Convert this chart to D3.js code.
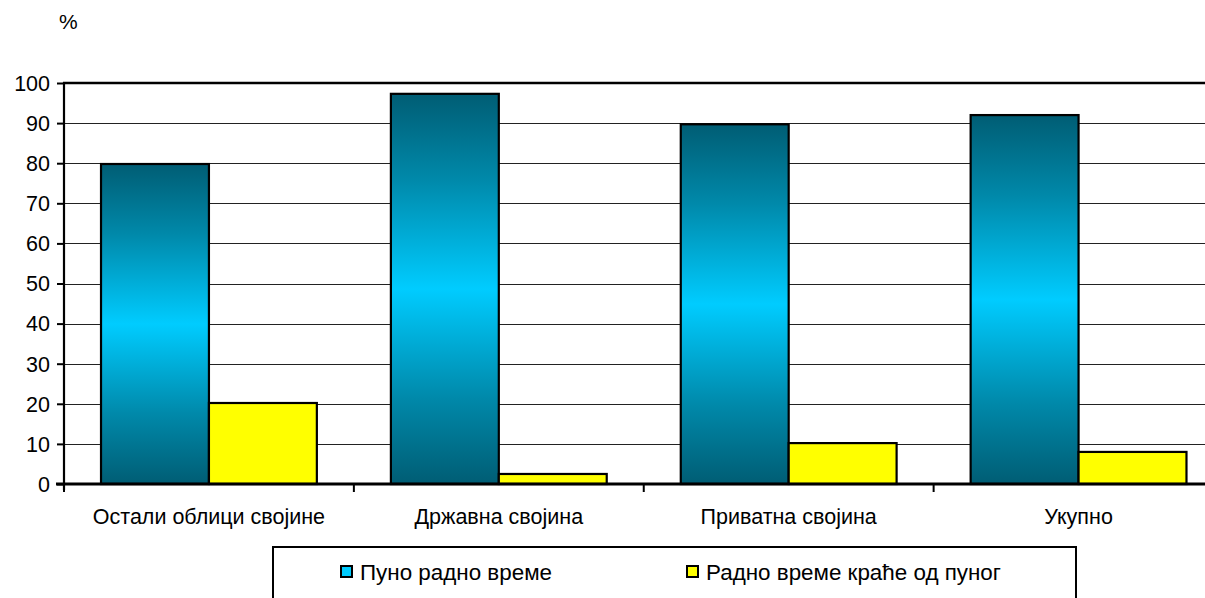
<!DOCTYPE html>
<html><head><meta charset="utf-8">
<script src="https://cdn.jsdelivr.net/npm/d3@7"></script>
<style>
html,body{margin:0;padding:0;background:#fff;overflow:hidden}
svg{display:block;font-family:"Liberation Sans",Arial,sans-serif}
</style></head>
<body>
<svg id="chart" width="1205" height="598"></svg>
<script>
const categories = ["Остали облици својине", "Државна својина", "Приватна својина", "Укупно"];
const seriesNames = ["Пуно радно време", "Радно време краће од пуног"];
const fullTime = [79.8, 97.3, 89.7, 92.0];
const partTime = [20.2, 2.5, 10.2, 8.0];
const yTicks = [0, 10, 20, 30, 40, 50, 60, 70, 80, 90, 100];
const unitLabel = "%";

(function () {
const data = categories.map((c, i) => ({cat: c, vals: [fullTime[i], partTime[i]]}));

const svg = d3.select("#chart");
const pLeft = 64, pRight = 1223.5, pTop = 83, pBottom = 484;
const ff = "Liberation Sans, Arial, sans-serif";

const x = d3.scaleBand().domain(categories).range([pLeft, pRight]).paddingInner(0).paddingOuter(0);
const xs = d3.scaleBand().domain([0, 1]).range([0, x.bandwidth()]).paddingInner(0).paddingOuter(0.343);
const y = d3.scaleLinear().domain([0, 100]).range([pBottom, pTop]);

// gradient
const defs = svg.append("defs");
const g = defs.append("linearGradient").attr("id", "blueGrad").attr("x1", 0).attr("y1", 0).attr("x2", 0).attr("y2", 1);
[[0, "#005d74"], [0.22, "#0089aa"], [0.5, "#00ccff"], [0.78, "#0089aa"], [1, "#005d74"]]
  .forEach(([o, c]) => g.append("stop").attr("offset", o).attr("stop-color", c));

// gridlines
svg.append("g").selectAll("line").data(yTicks.filter(t => t > 0 && t < 100)).join("line")
  .attr("x1", pLeft).attr("x2", 1205).attr("y1", d => Math.round(y(d)) + 0.5).attr("y2", d => Math.round(y(d)) + 0.5)
  .attr("stroke", "#222").attr("stroke-width", 1);

// top line
svg.append("line").attr("x1", pLeft - 1).attr("x2", 1205).attr("y1", y(100)).attr("y2", y(100))
  .attr("stroke", "#000").attr("stroke-width", 2.5);

// bars
const groups = svg.append("g").selectAll("g").data(data).join("g")
  .attr("transform", d => `translate(${x(d.cat)},0)`);
groups.selectAll("rect").data(d => d.vals.map((v, i) => ({v, i}))).join("rect")
  .attr("x", d => xs(d.i)).attr("width", xs.bandwidth())
  .attr("y", d => y(d.v)).attr("height", d => y(0) - y(d.v))
  .attr("fill", d => d.i === 0 ? "url(#blueGrad)" : "#ffff00")
  .attr("stroke", "#000").attr("stroke-width", 2.2);

// y axis
const yAxis = svg.append("g").attr("transform", `translate(${pLeft},0)`)
  .call(d3.axisLeft(y).tickValues(yTicks).tickSize(7).tickPadding(7).tickFormat(d3.format("d")));
yAxis.select(".domain").remove();
yAxis.selectAll(".tick line").attr("stroke", "#000").attr("stroke-width", 2);
yAxis.selectAll(".tick text").attr("font-size", 21.5).attr("fill", "#000").attr("font-family", ff)
  .attr("dy", "0.34em");
svg.append("line").attr("x1", pLeft).attr("x2", pLeft).attr("y1", pTop - 1).attr("y2", pBottom + 6)
  .attr("stroke", "#000").attr("stroke-width", 2.2);

// x axis
const xAxis = svg.append("g").attr("transform", `translate(0,${pBottom})`)
  .call(d3.axisBottom(x).tickSize(0).tickPadding(24.5));
xAxis.select(".domain").remove();
xAxis.selectAll(".tick text").attr("font-size", 21.5).attr("fill", "#000").attr("font-family", ff);
svg.append("line").attr("x1", pLeft - 8).attr("x2", 1205).attr("y1", pBottom).attr("y2", pBottom)
  .attr("stroke", "#000").attr("stroke-width", 3);
const bounds = categories.map(c => x(c)).concat([x(categories[categories.length - 1]) + x.bandwidth()]);
svg.append("g").selectAll("line").data(bounds).join("line")
  .attr("x1", d => d).attr("x2", d => d).attr("y1", pBottom).attr("y2", pBottom + 8)
  .attr("stroke", "#000").attr("stroke-width", 2);

// unit label
svg.append("text").attr("x", 59).attr("y", 29).attr("font-size", 21).attr("font-family", ff).text(unitLabel);

// legend
const lg = svg.append("g");
lg.append("rect").attr("x", 273).attr("y", 547).attr("width", 803).attr("height", 70)
  .attr("fill", "#fff").attr("stroke", "#000").attr("stroke-width", 2);
const legX = [341, 687];
const li = lg.selectAll("g").data(seriesNames).join("g")
  .attr("transform", (d, i) => `translate(${legX[i]},566)`);
li.append("rect").attr("width", 11).attr("height", 11)
  .attr("fill", (d, i) => i === 0 ? "#00ccff" : "#ffff00").attr("stroke", "#000").attr("stroke-width", 2);
li.append("text").attr("x", 19).attr("y", 14).attr("font-size", 22.4).attr("font-family", ff).text(d => d);
})();
</script>
</body></html>
